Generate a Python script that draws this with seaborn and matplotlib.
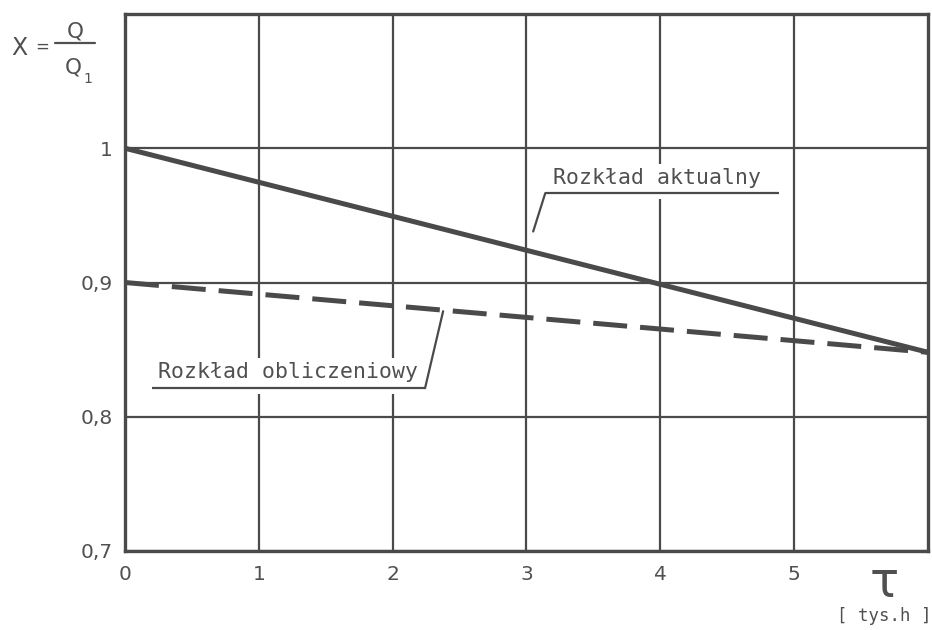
import matplotlib
matplotlib.use("Agg")
import matplotlib.pyplot as plt
from matplotlib.lines import Line2D
from matplotlib.patches import Rectangle
import seaborn as sns
import pandas as pd

# Time in thousands of hours and relative flow X = Q / Q1
tau = [0, 6]
actual = [1.0, 0.848]
computed = [0.9, 0.848]
x_ticks = [0, 1, 2, 3, 4, 5]
y_ticks = [0.7, 0.8, 0.9, 1.0]
y_tick_labels = ["0,7", "0,8", "0,9", "1"]
label_actual = "Rozkład aktualny"
label_computed = "Rozkład obliczeniowy"

sns.set_theme(style="white")
plt.rcParams["font.family"] = ["DejaVu Sans"]
plt.rcParams["mathtext.fontset"] = "dejavusans"

ink = "#4a4a4a"
text_col = "#505050"
mono = ["DejaVu Sans Mono", "DejaVu Sans"]

df = pd.DataFrame({
    "tau": tau + tau,
    "X": actual + computed,
    "series": [label_actual] * len(tau) + [label_computed] * len(tau),
})

W, H = 932, 630
fig = plt.figure(figsize=(W / 100, H / 100), dpi=100)
ax = fig.add_axes([125 / W, 1 - 551 / H, (928 - 125) / W, (551 - 14) / H])

sns.lineplot(data=df, x="tau", y="X", style="series",
             dashes={label_actual: "", label_computed: (6.8, 2.6)},
             color=ink, linewidth=3.6, legend=False, ax=ax, zorder=3)

ax.set_xlim(0, 6)
ax.set_ylim(0.7, 1.1)
ax.set_xticks(x_ticks)
ax.set_xticklabels([str(v) for v in x_ticks])
ax.set_yticks(y_ticks)
ax.set_yticklabels(y_tick_labels)
ax.set_xlabel("")
ax.set_ylabel("")

ax.grid(True, color=ink, linewidth=1.6)
for s in ax.spines.values():
    s.set_visible(True)
    s.set_color(ink)
    s.set_linewidth(2.4)

ax.tick_params(axis="both", colors=ink, labelcolor=text_col, labelsize=14.5,
               length=5, width=1.5, direction="out", pad=4)
ax.tick_params(axis="x", length=4, pad=6)


def fx(px):
    return px / W


def fy(py):
    return 1 - py / H


# Y axis title: X = Q / Q1
fig.text(fx(19), fy(48), "X", fontsize=17, color=text_col, ha="center", va="center")
fig.text(fx(42), fy(47), "=", fontsize=12, color=text_col, ha="center", va="center")
fig.add_artist(Line2D([fx(55), fx(95)], [fy(43), fy(43)], color=text_col, linewidth=1.6))
fig.text(fx(75), fy(32), "Q", fontsize=15.5, color=text_col, ha="center", va="center")
fig.text(fx(73), fy(68), "Q", fontsize=15.5, color=text_col, ha="center", va="center")
fig.text(fx(88), fy(79), "1", fontsize=10, color=text_col, ha="center", va="center")

# X axis title
fig.text(fx(884), fy(583), "τ", fontsize=35, color=text_col, ha="center", va="center")
fig.text(fx(884), fy(616), "[ tys.h ]", fontsize=12.5, color=text_col,
         ha="center", va="center", family=mono)

# Series labels: white ground over the grid, underline and leader to the line
ax.add_patch(Rectangle((3.1, 0.962), 1.8, 0.026, facecolor="white",
                       edgecolor="none", zorder=1.5))
ax.text(3.2, 0.9732, label_actual, fontsize=15.5, color=text_col,
        ha="left", va="baseline", family=mono, zorder=4)
ax.plot([3.14, 4.89], [0.9665, 0.9665], color=ink, linewidth=1.6,
        solid_capstyle="butt", zorder=4)
ax.plot([3.14, 3.05], [0.9665, 0.938], color=ink, linewidth=1.6, zorder=4)

ax.add_patch(Rectangle((0.2, 0.8168), 2.05, 0.0268, facecolor="white",
                       edgecolor="none", zorder=1.5))
ax.text(0.247, 0.8287, label_computed, fontsize=15.5, color=text_col,
        ha="left", va="baseline", family=mono, zorder=4)
ax.plot([0.2, 2.242], [0.8213, 0.8213], color=ink, linewidth=1.6,
        solid_capstyle="butt", zorder=4)
ax.plot([2.242, 2.377], [0.8213, 0.8786], color=ink, linewidth=1.6, zorder=4)

fig.savefig("out.png", dpi=100, facecolor="white")
